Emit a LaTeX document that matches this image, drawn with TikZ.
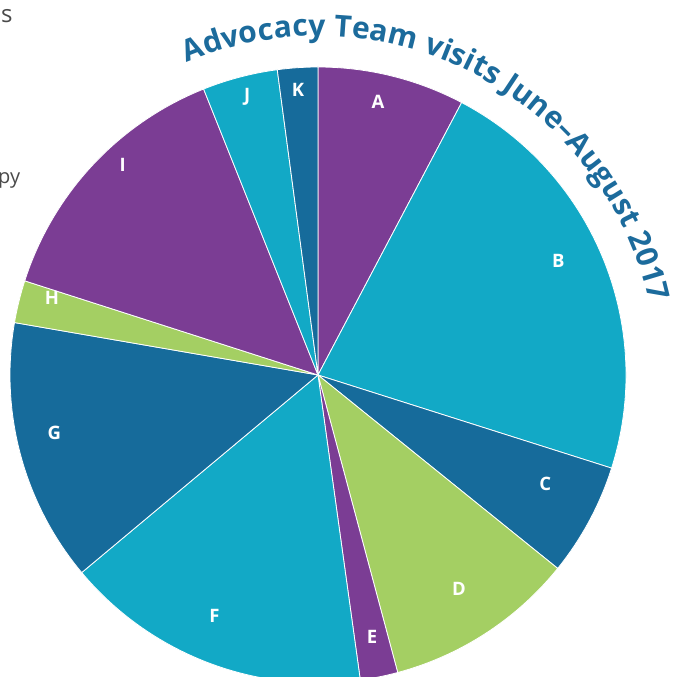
\documentclass[tikz,border=0pt]{standalone}
\usepackage{fontspec}
\setmainfont{Open Sans}
\newfontfamily\titlefont{Open Sans}
\usepackage{xcolor}
\usepackage{tikz}
\usetikzlibrary{decorations.text}

\definecolor{piepurple}{HTML}{7B3D94}
\definecolor{pieteal}{HTML}{12A9C6}
\definecolor{pieblue}{HTML}{166B9B}
\definecolor{piegreen}{HTML}{A4CF63}
\definecolor{titleblue}{HTML}{1C6B9C}
\definecolor{sidegrey}{HTML}{4A4A4A}

\tikzset{
  slice/.style={draw=white, line width=0.8pt},
  slicelabel/.style={text=white, font=\bfseries\fontsize{18.5}{18.5}\selectfont},
  sidetext/.style={text=sidegrey, anchor=base west, inner sep=0pt}
}

\begin{document}
\begin{tikzpicture}[x=1pt,y=1pt]
	 \useasboundingbox (-318,-302) rectangle (362,375);
	 \foreach \a/\b/\c in {90/62.2/piepurple, 62.2/-17.6/pieteal, -17.6/-38.9/pieblue,
	   -38.9/-75/piegreen, -75/-82.1/piepurple, -82.1/-140.1/pieteal, -140.1/-189.8/pieblue,
	   -189.8/-197.8/piegreen, -197.8/-248.2/piepurple, -248.2/-262.4/pieteal, -262.4/-270/pieblue}
	   \fill[\c, slice] (0,0) -- (\a:308) arc[start angle=\a, end angle=\b, radius=308] -- cycle;
	 \foreach \n/\p in {A/77.6:280, B/25.4:266, C/-25.6:252, D/-56.6:256, E/-78.3:267,
	   F/-113.3:262, G/192.4:270, H/163.9:277, I/132.9:287, J/104.3:287, K/94:286}
	   \node[slicelabel] (\n) at (\p) {\n};
	 \path[decorate, decoration={text along path,
	   text={|\titlefont\bfseries\fontsize{30}{30}\selectfont\color{titleblue}|Advocacy Team visits June–August 2017},
	   text align={fit to path}}]
	   (112.8:339) arc[start angle=112.8, end angle=12.4, radius=339];
	 \node[sidetext, font=\fontsize{24}{24}\selectfont] (s) at (-317,352) {s};
	 \node[sidetext, font=\fontsize{20}{20}\selectfont] (py) at (-320,191) {py};
	 \end{tikzpicture}
\end{document}
